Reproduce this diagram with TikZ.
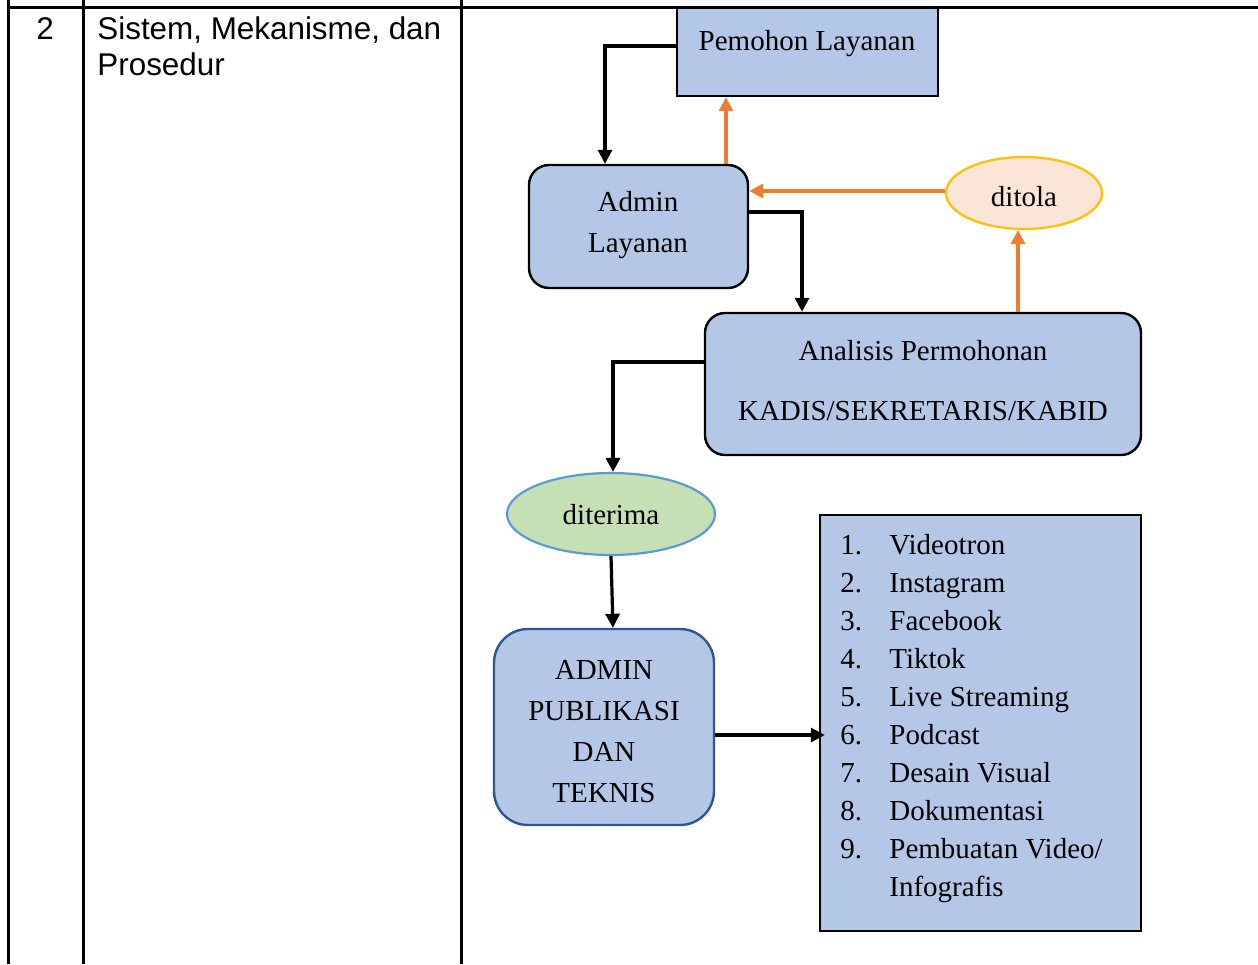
\documentclass[tikz,border=0pt]{standalone}
\usepackage{fontspec}
\setmainfont{Liberation Serif}
\newfontfamily\arialf{Liberation Sans}
\usetikzlibrary{arrows.meta,shapes.geometric}
\definecolor{boxblue}{HTML}{B4C7E7}
\definecolor{orgline}{HTML}{ED7D31}
\definecolor{gold}{HTML}{FFC000}
\definecolor{peach}{HTML}{FBE5D6}
\definecolor{lgreen}{HTML}{C5E0B4}
\definecolor{skyline}{HTML}{5B9BD5}
\definecolor{dblue}{HTML}{2F5597}
\begin{document}
\begin{tikzpicture}[x=0.5pt,y=-0.5pt,
  tbl/.style={line width=1.5pt,black},
  tt/.style={font=\arialf\fontsize{15.7}{18}\selectfont,anchor=base west,inner sep=0},
  dt/.style={font=\fontsize{14.5}{17}\selectfont,anchor=base,inner sep=0},
  lt/.style={font=\fontsize{14.5}{17}\selectfont,anchor=base west,inner sep=0},
  sqbox/.style={draw=black,line width=1.2pt,fill=boxblue,inner sep=0},
  rbox/.style={draw=black,line width=1.2pt,fill=boxblue,rounded corners=10pt,inner sep=0},
  blk/.style={draw=black,line width=1.6pt,-{Triangle[length=7pt,width=7pt]}},
  org/.style={draw=orgline,line width=1.6pt,-{Triangle[length=7pt,width=7pt]}}]
\useasboundingbox (0,0) rectangle (1258,964);
% table
\draw[tbl] (8,7) -- (1258,7);
\draw[tbl] (8,0) -- (8,964);
\draw[tbl] (83,0) -- (83,964);
\draw[tbl] (461,0) -- (461,964);
\node[tt] (n2) at (36,39) {2};
\node[tt] (s1) at (97,39) {Sistem, Mekanisme, dan};
\node[tt] (s2) at (97,75) {Prosedur};
% boxes
\node[sqbox,minimum width=130.5pt,minimum height=44pt] (pem) at (807.5,52) {};
\node[dt] (pemt) at (807,50) {Pemohon Layanan};
\node[rbox,minimum width=109.5pt,minimum height=61.5pt] (adm) at (638.5,226.5) {};
\node[dt] (admt1) at (638,211) {Admin};
\node[dt] (admt2) at (638,252) {Layanan};
\node[ellipse,draw=gold,line width=1.1pt,fill=peach,minimum width=78pt,minimum height=36pt,inner sep=0] (dit) at (1024,193) {};
\node[dt] (ditt) at (1024,206) {ditola};
\node[rbox,minimum width=218pt,minimum height=71pt] (ana) at (923,384) {};
\node[dt] (anat1) at (923,360) {Analisis Permohonan};
\node[dt] (anat2) at (923,420) {KADIS/SEKRETARIS/KABID};
\node[ellipse,draw=skyline,line width=1.1pt,fill=lgreen,minimum width=104pt,minimum height=41pt,inner sep=0] (dte) at (611,514) {};
\node[dt] (dtet) at (611,524) {diterima};
\node[rbox,draw=dblue,rounded corners=17pt,minimum width=110pt,minimum height=98pt] (pub) at (604,727) {};
\node[dt] (pubt1) at (604,679) {ADMIN};
\node[dt] (pubt2) at (604,720) {PUBLIKASI};
\node[dt] (pubt3) at (604,761) {DAN};
\node[dt] (pubt4) at (604,802) {TEKNIS};
\node[sqbox,minimum width=160.5pt,minimum height=208pt] (lst) at (980.5,723) {};
\foreach \i/\t [count=\k] in {1/Videotron,2/Instagram,3/Facebook,4/Tiktok,5/Live Streaming,6/Podcast,7/Desain Visual,8/Dokumentasi,9/{Pembuatan Video/}}{
  \node[lt] (ln\k) at (840,516+38*\k) {\i.};
  \node[lt] (lx\k) at (889,516+38*\k) {\t};
}
\node[lt] (lx10) at (889,896) {Infografis};
% connectors
\draw[blk] ([yshift=3pt]pem.west) -| ([xshift=-16.75pt]adm.north);
\draw[org] ([xshift=43.75pt]adm.north) -- ([xshift=43.75pt]adm.north |- pem.south);
\draw[org] ([yshift=1pt]dit.west) -- ([yshift=1pt]dit.west -| adm.east);
\draw[blk] ([yshift=7.25pt]adm.east) -| ([xshift=-60.5pt]ana.north);
\draw[org] ([xshift=47.5pt]ana.north) -- ([xshift=47.5pt]ana.north |- dit.south);
\draw[blk] ([yshift=11pt]ana.west) -| ([xshift=1pt]dte.north);
\draw[blk] (dte.south) -- ([xshift=4.5pt]pub.north);
\draw[blk] ([yshift=-4pt]pub.east) -- ([yshift=-4pt,xshift=3pt]pub.east -| lst.west);
\end{tikzpicture}
\end{document}
